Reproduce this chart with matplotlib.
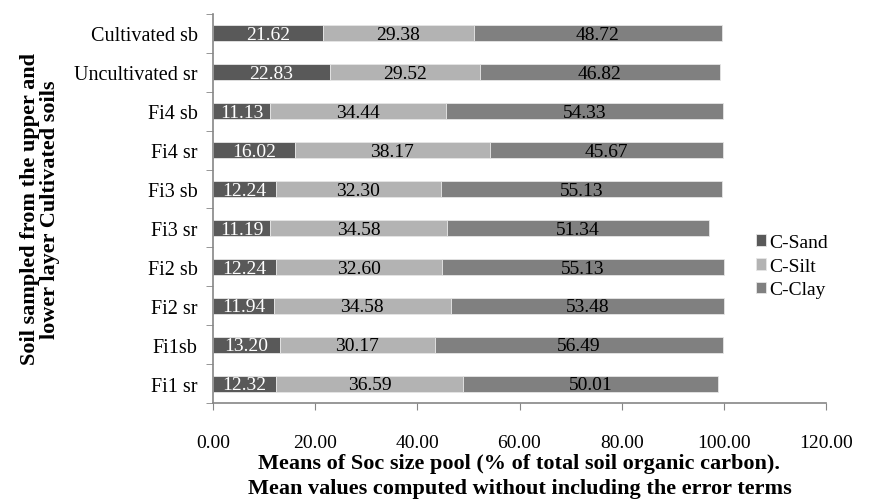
import numpy as np
import matplotlib.pyplot as plt

plt.rcParams['font.family'] = ['Liberation Serif', 'DejaVu Serif']

# data (bottom to top)
samples = ['Fi1 sr', 'Fi1sb', 'Fi2 sr', 'Fi2 sb', 'Fi3 sr', 'Fi3 sb',
           'Fi4 sr', 'Fi4 sb', 'Uncultivated sr', 'Cultivated sb']
c_sand = [12.32, 13.20, 11.94, 12.24, 11.19, 12.24, 16.02, 11.13, 22.83, 21.62]
c_silt = [36.59, 30.17, 34.58, 32.60, 34.58, 32.30, 38.17, 34.44, 29.52, 29.38]
c_clay = [50.01, 56.49, 53.48, 55.13, 51.34, 55.13, 45.67, 54.33, 46.82, 48.72]
x_ticks = [0, 20, 40, 60, 80, 100, 120]

series = [('C-Sand', c_sand, '#595959', 'white'),
          ('C-Silt', c_silt, '#b3b3b3', 'black'),
          ('C-Clay', c_clay, '#808080', 'black')]

fig = plt.figure(figsize=(8.82, 5.02), dpi=100)
ax = fig.add_axes([213 / 882, 1 - 404 / 502, 613 / 882, 389 / 502])

y = np.arange(len(samples))
left = np.zeros(len(samples))
for name, vals, color, tcolor in series:
    vals = np.array(vals)
    ax.barh(y, vals, left=left, height=0.41, color=color,
            edgecolor='#e6e6e6', linewidth=0.6, label=name)
    for yi, l, v in zip(y, left, vals):
        ax.text(l + v / 2, yi - 0.03, f'{v:.2f}', ha='center', va='center',
                color=tcolor, fontsize=14)
    left = left + vals

ax.set_xlim(0, 120)
ax.set_ylim(-0.5, len(samples) - 0.5)
ax.set_xticks(x_ticks)
ax.set_xticklabels([f'{t:.2f}' for t in x_ticks], fontsize=14)
ax.set_yticks(y)
ax.set_yticklabels(samples, fontsize=14.5)
ax.set_yticks(np.arange(len(samples) + 1) - 0.5, minor=True)
ax.tick_params(axis='y', which='major', length=0, pad=11)
ax.tick_params(axis='y', which='minor', length=5, color='#868686', direction='out')
ax.tick_params(axis='x', length=5, color='#868686', direction='out', pad=17)

for s in ['top', 'right']:
    ax.spines[s].set_visible(False)
for s in ['left', 'bottom']:
    ax.spines[s].set_color('#868686')
    ax.spines[s].set_linewidth(1.2)

ax.set_xlabel('Means of Soc size pool (% of total soil organic carbon).\n'
              'Mean values computed without including the error terms',
              fontsize=16, fontweight='bold', labelpad=2, linespacing=1.3)
ax.set_ylabel('Soil sampled from the upper and\nlower layer Cultivated soils',
              fontsize=16, fontweight='bold', labelpad=10, linespacing=1.0)

ax.legend(loc='upper left', bbox_to_anchor=(746 / 882, 1 - 225 / 502),
          bbox_transform=fig.transFigure, frameon=False,
          fontsize=14, handlelength=0.55, handleheight=0.55,
          handletextpad=0.15, labelspacing=0.35, borderpad=0)

fig.savefig('out.png', dpi=100)
